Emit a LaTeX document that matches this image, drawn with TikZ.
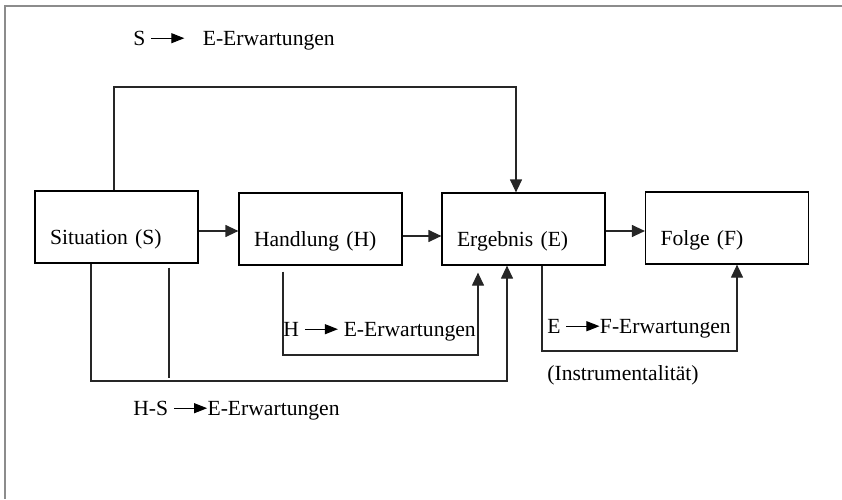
\documentclass[tikz,border=0pt]{standalone}
\usepackage{fontspec}
\setmainfont{Liberation Serif}
\usetikzlibrary{arrows.meta,calc}

\newcommand{\pfeilchen}{\tikz[baseline=-3.4pt]\draw[line width=0.5pt,-{Triangle[length=6.5pt,width=5pt]}] (0pt,0pt) -- (16.5pt,0pt);}

\begin{document}
\begin{tikzpicture}[
    x=0.5pt, y=-0.5pt,
    font=\fontsize{10.8}{13}\selectfont,
    arr/.style={-{Triangle[length=6.5pt,width=6pt]}, line width=0.6pt, draw=black!85},
    linie/.style={line width=0.6pt, draw=black!85},
    kasten/.style={
      draw, line width=0.6pt, align=left,
      text width=66.5pt, inner xsep=7.5pt, inner ysep=0pt,
      text height=26.5pt, text depth=9.5pt,
      minimum width=81.5pt, minimum height=36pt
    },
    etikett/.style={anchor=base west, inner sep=0pt},
    rahmen/.style={draw=black!45, line width=1pt}
  ]
  \useasboundingbox (0,0) rectangle (842,499);
  % --- Rahmen (nur oben und links) ---
  \draw[rahmen] (842,6) -- (5,6) -- (5,499);

  % --- Kaesten ---
  \node[kasten] (sit) at (116.5,227) {Situation (S)};
  \node[kasten] (hand) at (320.5,229) {Handlung (H)};
  \node[kasten] (erg) at (523.5,229) {Ergebnis (E)};
  \node[kasten] (folge) at (727,228) {Folge (F)};

  % --- Hilfspunkte ---
  \coordinate (oben) at (114,87);
  \coordinate (hsunten) at (91,381);
  \coordinate (hunten) at (283,355);
  \coordinate (funten) at (542,351);

  % --- Beschriftungen ---
  \node[etikett] (selbl) at (133,45) {S \pfeilchen\hspace{9pt}E-Erwartungen};
  \node[etikett] (helbl) at (283,336) {H \pfeilchen\ E-Erwartungen};
  \node[etikett] (hselbl) at (133,415) {H-S \pfeilchen E-Erwartungen};
  \node[etikett] (eflbl) at (547,333) {E \pfeilchen F-Erwartungen};
  \node[etikett] (instlbl) at (547,380) {(Instrumentalität)};

  % --- Pfeile ---
  \draw[arr] ($(sit.east)+(0,4)$) -- ($(sit.east -| hand.west)+(0,4)$);
  \draw[arr] ($(hand.east)+(0,7)$) -- ($(hand.east -| erg.west)+(0,7)$);
  \draw[arr] ($(erg.east)+(0,2)$) -- ($(erg.east -| folge.west)+(0,2)$);
  \draw[arr] (sit.north -| oben) -- (oben) -| ($(erg.north)+(-7.5,0)$);
  \draw[arr] (sit.south -| hsunten) -- (hsunten) -| ($(erg.south)+(-16.5,0)$);
  \draw[linie] ($(sit.south -| hsunten)+(78,4)$) -- ($(hsunten)+(78,-3)$);
  \draw[arr] ($(hand.south -| hunten)+(0,6)$) -- (hunten) -| ($(erg.south)+(-45.5,7)$);
  \draw[arr] (erg.south -| funten) -- (funten) -| ($(folge.south)+(10,0)$);
\end{tikzpicture}
\end{document}
